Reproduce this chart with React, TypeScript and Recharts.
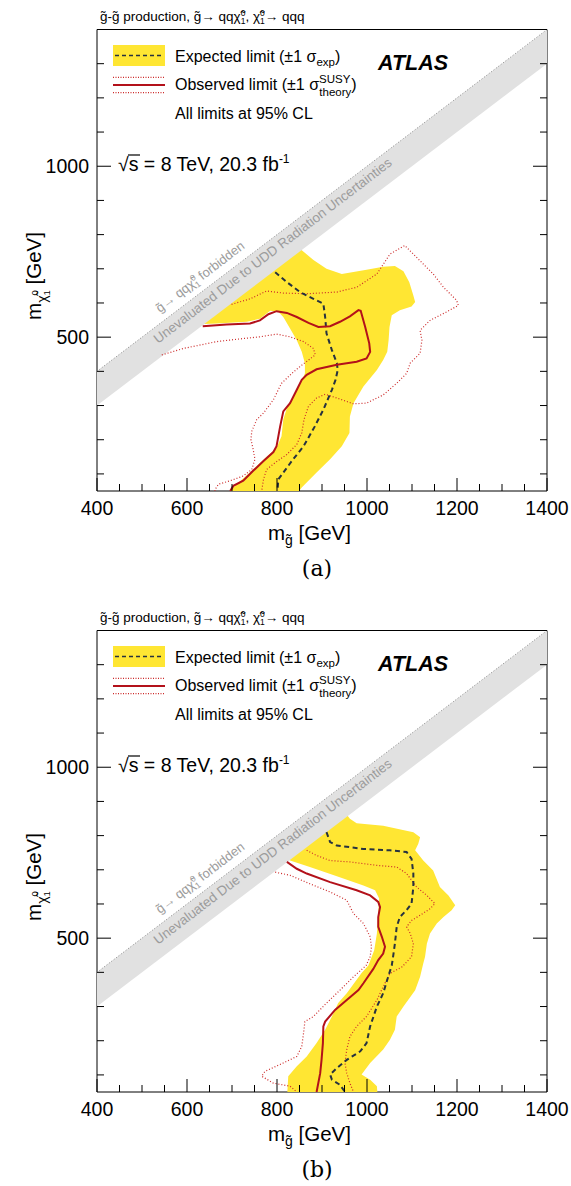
import React from 'react'
import { ComposedChart, XAxis, YAxis, Scatter } from 'recharts'

type Pt = { x: number; y: number }

const X_TICKS = [400, 450, 500, 550, 600, 650, 700, 750, 800, 850, 900, 950, 1000, 1050, 1100, 1150, 1200, 1250, 1300, 1350, 1400]
const Y_TICKS = [100, 200, 300, 400, 500, 600, 700, 800, 900, 1000, 1100, 1200, 1300, 1400]

// kinematically forbidden edge and the unevaluated strip
const DIAGONAL: Pt[] = [{ x: 400, y: 400 }, { x: 1400, y: 1400 }]
const GRAY_BAND: Pt[] = [{ x: 400, y: 400 }, { x: 1400, y: 1400 }, { x: 1400, y: 1300 }, { x: 400, y: 300 }]

// panel (a)
const bandA: Pt[] = [
  { x: 625, y: 538 }, { x: 845, y: 765 }, { x: 881, y: 726 }, { x: 910, y: 700 }, { x: 944, y: 685 },
  { x: 999, y: 697 }, { x: 1036, y: 706 }, { x: 1062, y: 708 }, { x: 1081, y: 693 }, { x: 1094, y: 661 },
  { x: 1103, y: 622 }, { x: 1107, y: 603 }, { x: 1099, y: 590 }, { x: 1073, y: 579 }, { x: 1055, y: 564 },
  { x: 1050, y: 530 }, { x: 1048, y: 491 }, { x: 1045, y: 457 }, { x: 1036, y: 433 }, { x: 1022, y: 404 },
  { x: 992, y: 356 }, { x: 970, y: 307 }, { x: 962, y: 268 }, { x: 961, y: 220 }, { x: 944, y: 181 },
  { x: 918, y: 143 }, { x: 888, y: 104 }, { x: 855, y: 60 }, { x: 849, y: 50 }, { x: 695, y: 50 },
  { x: 710, y: 70 }, { x: 733, y: 96 }, { x: 755, y: 123 }, { x: 777, y: 150 }, { x: 799, y: 176 },
  { x: 810, y: 210 }, { x: 814, y: 259 }, { x: 822, y: 293 }, { x: 836, y: 327 }, { x: 851, y: 361 },
  { x: 862, y: 394 }, { x: 862, y: 424 }, { x: 855, y: 457 }, { x: 844, y: 491 }, { x: 829, y: 525 },
  { x: 814, y: 559 }, { x: 803, y: 574 }, { x: 785, y: 577 }, { x: 762, y: 554 }, { x: 733, y: 545 },
  { x: 666, y: 540 },
]
const expA: Pt[] = [
  { x: 796, y: 690 }, { x: 822, y: 661 }, { x: 851, y: 632 }, { x: 881, y: 612 }, { x: 903, y: 598 },
  { x: 907, y: 559 }, { x: 910, y: 511 }, { x: 922, y: 462 }, { x: 933, y: 424 }, { x: 935, y: 404 },
  { x: 930, y: 375 }, { x: 922, y: 346 }, { x: 903, y: 288 }, { x: 884, y: 239 }, { x: 859, y: 181 },
  { x: 836, y: 143 }, { x: 814, y: 104 }, { x: 803, y: 84 }, { x: 801, y: 50 },
]
const obsA: Pt[] = [
  { x: 635, y: 532 }, { x: 688, y: 537 }, { x: 740, y: 540 }, { x: 762, y: 549 }, { x: 781, y: 567 },
  { x: 799, y: 576 }, { x: 822, y: 571 }, { x: 844, y: 559 }, { x: 870, y: 542 }, { x: 892, y: 530 },
  { x: 918, y: 532 }, { x: 940, y: 545 }, { x: 962, y: 561 }, { x: 981, y: 579 }, { x: 986, y: 577 },
  { x: 996, y: 530 }, { x: 1005, y: 482 }, { x: 1007, y: 457 }, { x: 999, y: 438 }, { x: 977, y: 428 },
  { x: 933, y: 419 }, { x: 888, y: 406 }, { x: 866, y: 390 }, { x: 855, y: 375 }, { x: 844, y: 346 },
  { x: 829, y: 307 }, { x: 814, y: 283 }, { x: 807, y: 239 }, { x: 799, y: 181 }, { x: 792, y: 164 },
  { x: 770, y: 138 }, { x: 747, y: 109 }, { x: 725, y: 80 }, { x: 703, y: 65 }, { x: 696, y: 50 },
]
const obsUpA: Pt[] = [
  { x: 699, y: 596 }, { x: 740, y: 612 }, { x: 777, y: 635 }, { x: 814, y: 629 }, { x: 866, y: 627 },
  { x: 933, y: 632 }, { x: 977, y: 646 }, { x: 1022, y: 685 }, { x: 1051, y: 743 }, { x: 1084, y: 768 },
  { x: 1103, y: 743 }, { x: 1125, y: 714 }, { x: 1147, y: 685 }, { x: 1170, y: 646 }, { x: 1199, y: 608 },
  { x: 1203, y: 593 }, { x: 1177, y: 574 }, { x: 1140, y: 549 }, { x: 1118, y: 520 }, { x: 1122, y: 491 },
  { x: 1118, y: 453 }, { x: 1096, y: 424 }, { x: 1088, y: 394 }, { x: 1066, y: 365 }, { x: 1036, y: 331 },
  { x: 999, y: 307 }, { x: 970, y: 305 }, { x: 933, y: 322 }, { x: 907, y: 333 }, { x: 888, y: 322 },
  { x: 870, y: 298 }, { x: 860, y: 259 }, { x: 855, y: 220 }, { x: 844, y: 186 }, { x: 822, y: 157 },
  { x: 796, y: 133 }, { x: 777, y: 113 }, { x: 770, y: 84 }, { x: 766, y: 50 },
]
const obsDownA: Pt[] = [
  { x: 544, y: 448 }, { x: 592, y: 467 }, { x: 666, y: 487 }, { x: 725, y: 496 }, { x: 762, y: 501 },
  { x: 799, y: 509 }, { x: 829, y: 501 }, { x: 859, y: 487 }, { x: 881, y: 467 }, { x: 885, y: 448 },
  { x: 870, y: 433 }, { x: 851, y: 414 }, { x: 833, y: 394 }, { x: 818, y: 375 }, { x: 810, y: 365 },
  { x: 792, y: 317 }, { x: 770, y: 278 }, { x: 755, y: 259 }, { x: 744, y: 225 }, { x: 742, y: 201 },
  { x: 747, y: 172 }, { x: 751, y: 143 }, { x: 744, y: 113 }, { x: 725, y: 94 }, { x: 696, y: 80 },
  { x: 670, y: 70 }, { x: 662, y: 53 }, { x: 662, y: 50 },
]

// panel (b)
const bandB: Pt[] = [
  { x: 815, y: 740 }, { x: 950, y: 870 }, { x: 962, y: 849 }, { x: 977, y: 836 }, { x: 1036, y: 829 },
  { x: 1103, y: 810 }, { x: 1118, y: 795 }, { x: 1114, y: 776 }, { x: 1107, y: 757 }, { x: 1125, y: 727 },
  { x: 1147, y: 698 }, { x: 1162, y: 650 }, { x: 1181, y: 625 }, { x: 1196, y: 596 }, { x: 1188, y: 582 },
  { x: 1170, y: 562 }, { x: 1155, y: 543 }, { x: 1140, y: 514 }, { x: 1133, y: 484 }, { x: 1129, y: 446 },
  { x: 1125, y: 426 }, { x: 1118, y: 387 }, { x: 1107, y: 348 }, { x: 1081, y: 300 }, { x: 1066, y: 271 },
  { x: 1062, y: 232 }, { x: 1051, y: 203 }, { x: 1036, y: 174 }, { x: 1007, y: 135 }, { x: 988, y: 101 },
  { x: 1007, y: 86 }, { x: 1022, y: 67 }, { x: 1023, y: 50 }, { x: 823, y: 50 }, { x: 825, y: 96 },
  { x: 844, y: 125 }, { x: 866, y: 154 }, { x: 888, y: 193 }, { x: 907, y: 232 }, { x: 922, y: 271 },
  { x: 936, y: 310 }, { x: 955, y: 339 }, { x: 977, y: 378 }, { x: 988, y: 398 }, { x: 1003, y: 420 },
  { x: 1016, y: 465 }, { x: 1022, y: 514 }, { x: 1025, y: 572 }, { x: 1027, y: 616 }, { x: 1018, y: 640 },
  { x: 992, y: 654 }, { x: 933, y: 681 }, { x: 873, y: 708 }, { x: 829, y: 727 },
]
const expB: Pt[] = [
  { x: 910, y: 810 }, { x: 918, y: 781 }, { x: 933, y: 771 }, { x: 992, y: 761 }, { x: 1051, y: 757 },
  { x: 1088, y: 752 }, { x: 1099, y: 732 }, { x: 1103, y: 689 }, { x: 1103, y: 650 }, { x: 1099, y: 601 },
  { x: 1088, y: 582 }, { x: 1073, y: 562 }, { x: 1066, y: 533 }, { x: 1062, y: 484 }, { x: 1058, y: 446 },
  { x: 1055, y: 420 }, { x: 1047, y: 387 }, { x: 1036, y: 339 }, { x: 1022, y: 300 }, { x: 1007, y: 242 },
  { x: 999, y: 193 }, { x: 985, y: 169 }, { x: 955, y: 144 }, { x: 933, y: 120 }, { x: 918, y: 101 },
  { x: 922, y: 86 }, { x: 940, y: 71 }, { x: 951, y: 50 },
]
const obsB: Pt[] = [
  { x: 822, y: 723 }, { x: 844, y: 703 }, { x: 866, y: 689 }, { x: 918, y: 664 }, { x: 977, y: 640 },
  { x: 1007, y: 625 }, { x: 1025, y: 606 }, { x: 1029, y: 591 }, { x: 1025, y: 562 }, { x: 1025, y: 533 },
  { x: 1033, y: 504 }, { x: 1040, y: 475 }, { x: 1036, y: 455 }, { x: 1025, y: 436 }, { x: 1014, y: 410 },
  { x: 992, y: 368 }, { x: 981, y: 348 }, { x: 955, y: 319 }, { x: 929, y: 290 }, { x: 907, y: 256 },
  { x: 903, y: 242 }, { x: 902, y: 193 }, { x: 899, y: 144 }, { x: 896, y: 105 }, { x: 888, y: 50 },
]
const obsUpB: Pt[] = [
  { x: 866, y: 757 }, { x: 888, y: 742 }, { x: 918, y: 727 }, { x: 962, y: 723 }, { x: 1022, y: 713 },
  { x: 1066, y: 708 }, { x: 1088, y: 689 }, { x: 1110, y: 650 }, { x: 1133, y: 625 }, { x: 1151, y: 601 },
  { x: 1140, y: 586 }, { x: 1118, y: 567 }, { x: 1099, y: 552 }, { x: 1088, y: 533 }, { x: 1096, y: 514 },
  { x: 1103, y: 484 }, { x: 1099, y: 446 }, { x: 1078, y: 416 }, { x: 1051, y: 397 }, { x: 1036, y: 358 },
  { x: 1022, y: 319 }, { x: 999, y: 271 }, { x: 977, y: 242 }, { x: 962, y: 212 }, { x: 955, y: 174 },
  { x: 951, y: 135 }, { x: 955, y: 105 }, { x: 962, y: 76 }, { x: 970, y: 50 },
]
const obsDownB: Pt[] = [
  { x: 796, y: 693 }, { x: 829, y: 684 }, { x: 873, y: 659 }, { x: 918, y: 635 }, { x: 955, y: 611 },
  { x: 970, y: 572 }, { x: 992, y: 543 }, { x: 1007, y: 504 }, { x: 1010, y: 475 }, { x: 1007, y: 446 },
  { x: 998, y: 420 }, { x: 970, y: 387 }, { x: 940, y: 348 }, { x: 910, y: 310 }, { x: 881, y: 271 },
  { x: 862, y: 256 }, { x: 859, y: 222 }, { x: 855, y: 183 }, { x: 844, y: 154 }, { x: 814, y: 135 },
  { x: 773, y: 110 }, { x: 766, y: 96 }, { x: 792, y: 76 }, { x: 829, y: 67 }, { x: 844, y: 50 },
]

const SANS = "'Liberation Sans', Arial, Helvetica, sans-serif"
const YELLOW = '#ffe633'
const RED = '#b3111a'
const RED_DOT = '#cc2a2a'
const DARK = '#27323f'
const GRAY_TEXT = '#9c9c9c'

const noShape = () => <g />

const polygon = (fill: string) => (props: any) => {
  const pts: { x: number; y: number }[] = props.points || []
  const d = pts.map((p, i) => `${i ? 'L' : 'M'}${p.x},${p.y}`).join('') + 'Z'
  return <path d={d} fill={fill} stroke="none" />
}

function BottomTick(props: any) {
  const { x, y, payload } = props
  const major = payload.value % 200 === 0
  return (
    <g>
      <line x1={x} x2={x} y1={y} y2={y - (major ? 13 : 7)} stroke="#000" />
      {major && (
        <text x={x} y={y + 24} textAnchor="middle" fontSize={19.5} fontFamily={SANS} fill="#000">
          {payload.value}
        </text>
      )}
    </g>
  )
}

function TopTick(props: any) {
  const { x, y, payload } = props
  const major = payload.value % 200 === 0
  return <line x1={x} x2={x} y1={y} y2={y + (major ? 13 : 7)} stroke="#000" />
}

function LeftTick(props: any) {
  const { x, y, payload } = props
  const major = payload.value % 500 === 0
  return (
    <g>
      <line x1={x} x2={x + (major ? 14 : 7)} y1={y} y2={y} stroke="#000" />
      {major && (
        <text x={x - 8} y={y + 7} textAnchor="end" fontSize={19.5} fontFamily={SANS} fill="#000">
          {payload.value}
        </text>
      )}
    </g>
  )
}

function RightTick(props: any) {
  const { x, y, payload } = props
  const major = payload.value % 500 === 0
  return <line x1={x} x2={x - (major ? 14 : 7)} y1={y} y2={y} stroke="#000" />
}

function Overlay({ caption, height }: { caption: string; height: number }) {
  const tilde = '\u0303'
  return (
    <svg
      width={571}
      height={height}
      style={{ position: 'absolute', left: 0, top: 0, pointerEvents: 'none' }}
      fontFamily={SANS}
    >
      {/* process line above the frame */}
      <text x={100} y={21} fontSize={13.5}>
        {`g${tilde}-g${tilde} production, g${tilde}\u2192 qq\u03C7${tilde}`}
        <tspan fontSize={8.5} dy={-5}>0</tspan>
        <tspan fontSize={8.5} dx={-4.7} dy={8}>1</tspan>
        <tspan dy={-3}>{`, \u03C7${tilde}`}</tspan>
        <tspan fontSize={8.5} dy={-5}>0</tspan>
        <tspan fontSize={8.5} dx={-4.7} dy={8}>1</tspan>
        <tspan dy={-3}>{'\u2192 qqq'}</tspan>
      </text>

      {/* legend */}
      <rect x={113} y={45} width={52} height={21} fill={YELLOW} />
      <line x1={115} x2={164} y1={55.5} y2={55.5} stroke={DARK} strokeWidth={1.6} strokeDasharray="4 3" />
      <text x={175} y={62} fontSize={16}>
        {'Expected limit (\u00B11 \u03C3'}
        <tspan fontSize={11.5} dy={4}>exp</tspan>
        <tspan dy={-4}>)</tspan>
      </text>
      <line x1={113} x2={165} y1={77.3} y2={77.3} stroke={RED_DOT} strokeWidth={1.2} strokeDasharray="1 1.5" />
      <line x1={113} x2={165} y1={85} y2={85} stroke={RED} strokeWidth={2} />
      <line x1={113} x2={165} y1={92.7} y2={92.7} stroke={RED_DOT} strokeWidth={1.2} strokeDasharray="1 1.5" />
      <text x={175} y={90} fontSize={16}>
        {'Observed limit (\u00B11 \u03C3'}
        <tspan fontSize={11.5} dy={-7}>SUSY</tspan>
        <tspan fontSize={11.5} dx={-31} dy={13}>theory</tspan>
        <tspan dy={-6}>)</tspan>
      </text>
      <text x={175} y={118.5} fontSize={16}>All limits at 95% CL</text>
      <text x={378} y={70} fontSize={21.5} fontWeight="bold" fontStyle="italic">ATLAS</text>

      <text x={118} y={171} fontSize={19.5}>
        {'\u221As = 8 TeV, 20.3 fb'}
        <tspan fontSize={12} dy={-8}>-1</tspan>
      </text>
      <line x1={128} x2={140} y1={155} y2={155} stroke="#000" strokeWidth={1.2} />

      {/* annotations along the diagonal */}
      <text transform="translate(160,313) rotate(-37.4)" fontSize={13} fill={GRAY_TEXT}>
        {`g${tilde}\u2192 qq\u03C7${tilde}`}
        <tspan fontSize={8.5} dy={-5}>0</tspan>
        <tspan fontSize={8.5} dx={-4.7} dy={8}>1</tspan>
        <tspan dy={-3}> forbidden</tspan>
      </text>
      <text transform="translate(158,344) rotate(-37.4)" fontSize={13.5} fill={GRAY_TEXT}>
        Unevaluated Due to UDD Radiation Uncertainties
      </text>

      {/* axis titles */}
      <text transform="translate(41,276) rotate(-90)" textAnchor="middle" fontSize={20.5}>
        m
        <tspan fontSize={14} dy={6}>{`\u03C7${tilde}`}</tspan>
        <tspan fontSize={9.5} dy={3}>1</tspan>
        <tspan fontSize={9.5} dx={-5.3} dy={-12}>0</tspan>
        <tspan dy={3}> [GeV]</tspan>
      </text>
      <text x={268} y={540} fontSize={20.5}>
        m
        <tspan fontSize={14} dy={5}>{`g${tilde}`}</tspan>
        <tspan dy={-5}> [GeV]</tspan>
      </text>

      <text x={317} y={576} textAnchor="middle" fontSize={22} fontFamily="'DejaVu Serif', serif">
        {caption}
      </text>
    </svg>
  )
}

interface PanelProps {
  caption: string
  height: number
  band: Pt[]
  expected: Pt[]
  observed: Pt[]
  obsUp: Pt[]
  obsDown: Pt[]
}

function Panel({ caption, height, band, expected, observed, obsUp, obsDown }: PanelProps) {
  return (
    <div style={{ position: 'relative', width: 571, height }}>
      <ComposedChart width={571} height={height} margin={{ top: 28.5, right: 23, bottom: height - 492, left: 96 }}>
        <XAxis
          type="number" dataKey="x" domain={[400, 1400]} ticks={X_TICKS} interval={0} allowDataOverflow
          height={1} tickSize={0} tickMargin={0} tickLine={false} axisLine={{ stroke: '#000' }} tick={BottomTick}
        />
        <XAxis
          xAxisId="top" orientation="top" type="number" domain={[400, 1400]} ticks={X_TICKS} interval={0}
          allowDataOverflow height={1} tickSize={0} tickMargin={0} tickLine={false} axisLine={{ stroke: '#000' }} tick={TopTick}
        />
        <YAxis
          type="number" dataKey="y" domain={[50, 1400]} ticks={Y_TICKS} interval={0} allowDataOverflow
          width={1} tickSize={0} tickMargin={0} tickLine={false} axisLine={{ stroke: '#000' }} tick={LeftTick}
        />
        <YAxis
          yAxisId="right" orientation="right" type="number" domain={[50, 1400]} ticks={Y_TICKS} interval={0}
          allowDataOverflow width={1} tickSize={0} tickMargin={0} tickLine={false} axisLine={{ stroke: '#000' }} tick={RightTick}
        />
        <Scatter data={band} fill={YELLOW} line={polygon(YELLOW)} lineType="joint" shape={noShape} isAnimationActive={false} />
        <Scatter data={GRAY_BAND} fill="#e1e1e1" line={polygon('#e1e1e1')} lineType="joint" shape={noShape} isAnimationActive={false} />
        <Scatter
          data={DIAGONAL} fill="#8a8a8a" line={{ stroke: '#8a8a8a', strokeWidth: 1, strokeDasharray: '1 2' }}
          lineType="joint" shape={noShape} isAnimationActive={false}
        />
        <Scatter
          data={obsDown} fill={RED_DOT} line={{ stroke: RED_DOT, strokeWidth: 1.2, strokeDasharray: '1 2' }}
          lineType="joint" shape={noShape} isAnimationActive={false}
        />
        <Scatter
          data={obsUp} fill={RED_DOT} line={{ stroke: RED_DOT, strokeWidth: 1.2, strokeDasharray: '1 2' }}
          lineType="joint" shape={noShape} isAnimationActive={false}
        />
        <Scatter
          data={expected} fill={DARK} line={{ stroke: DARK, strokeWidth: 2, strokeDasharray: '5 3.5' }}
          lineType="joint" shape={noShape} isAnimationActive={false}
        />
        <Scatter
          data={observed} fill={RED} line={{ stroke: RED, strokeWidth: 2 }}
          lineType="joint" shape={noShape} isAnimationActive={false}
        />
      </ComposedChart>
      <Overlay caption={caption} height={height} />
    </div>
  )
}

export default function App() {
  return (
    <div style={{ position: 'absolute', left: 0, top: 0, width: 571, background: '#fff' }}>
      <Panel caption="(a)" height={601} band={bandA} expected={expA} observed={obsA} obsUp={obsUpA} obsDown={obsDownA} />
      <Panel caption="(b)" height={585} band={bandB} expected={expB} observed={obsB} obsUp={obsUpB} obsDown={obsDownB} />
    </div>
  )
}
